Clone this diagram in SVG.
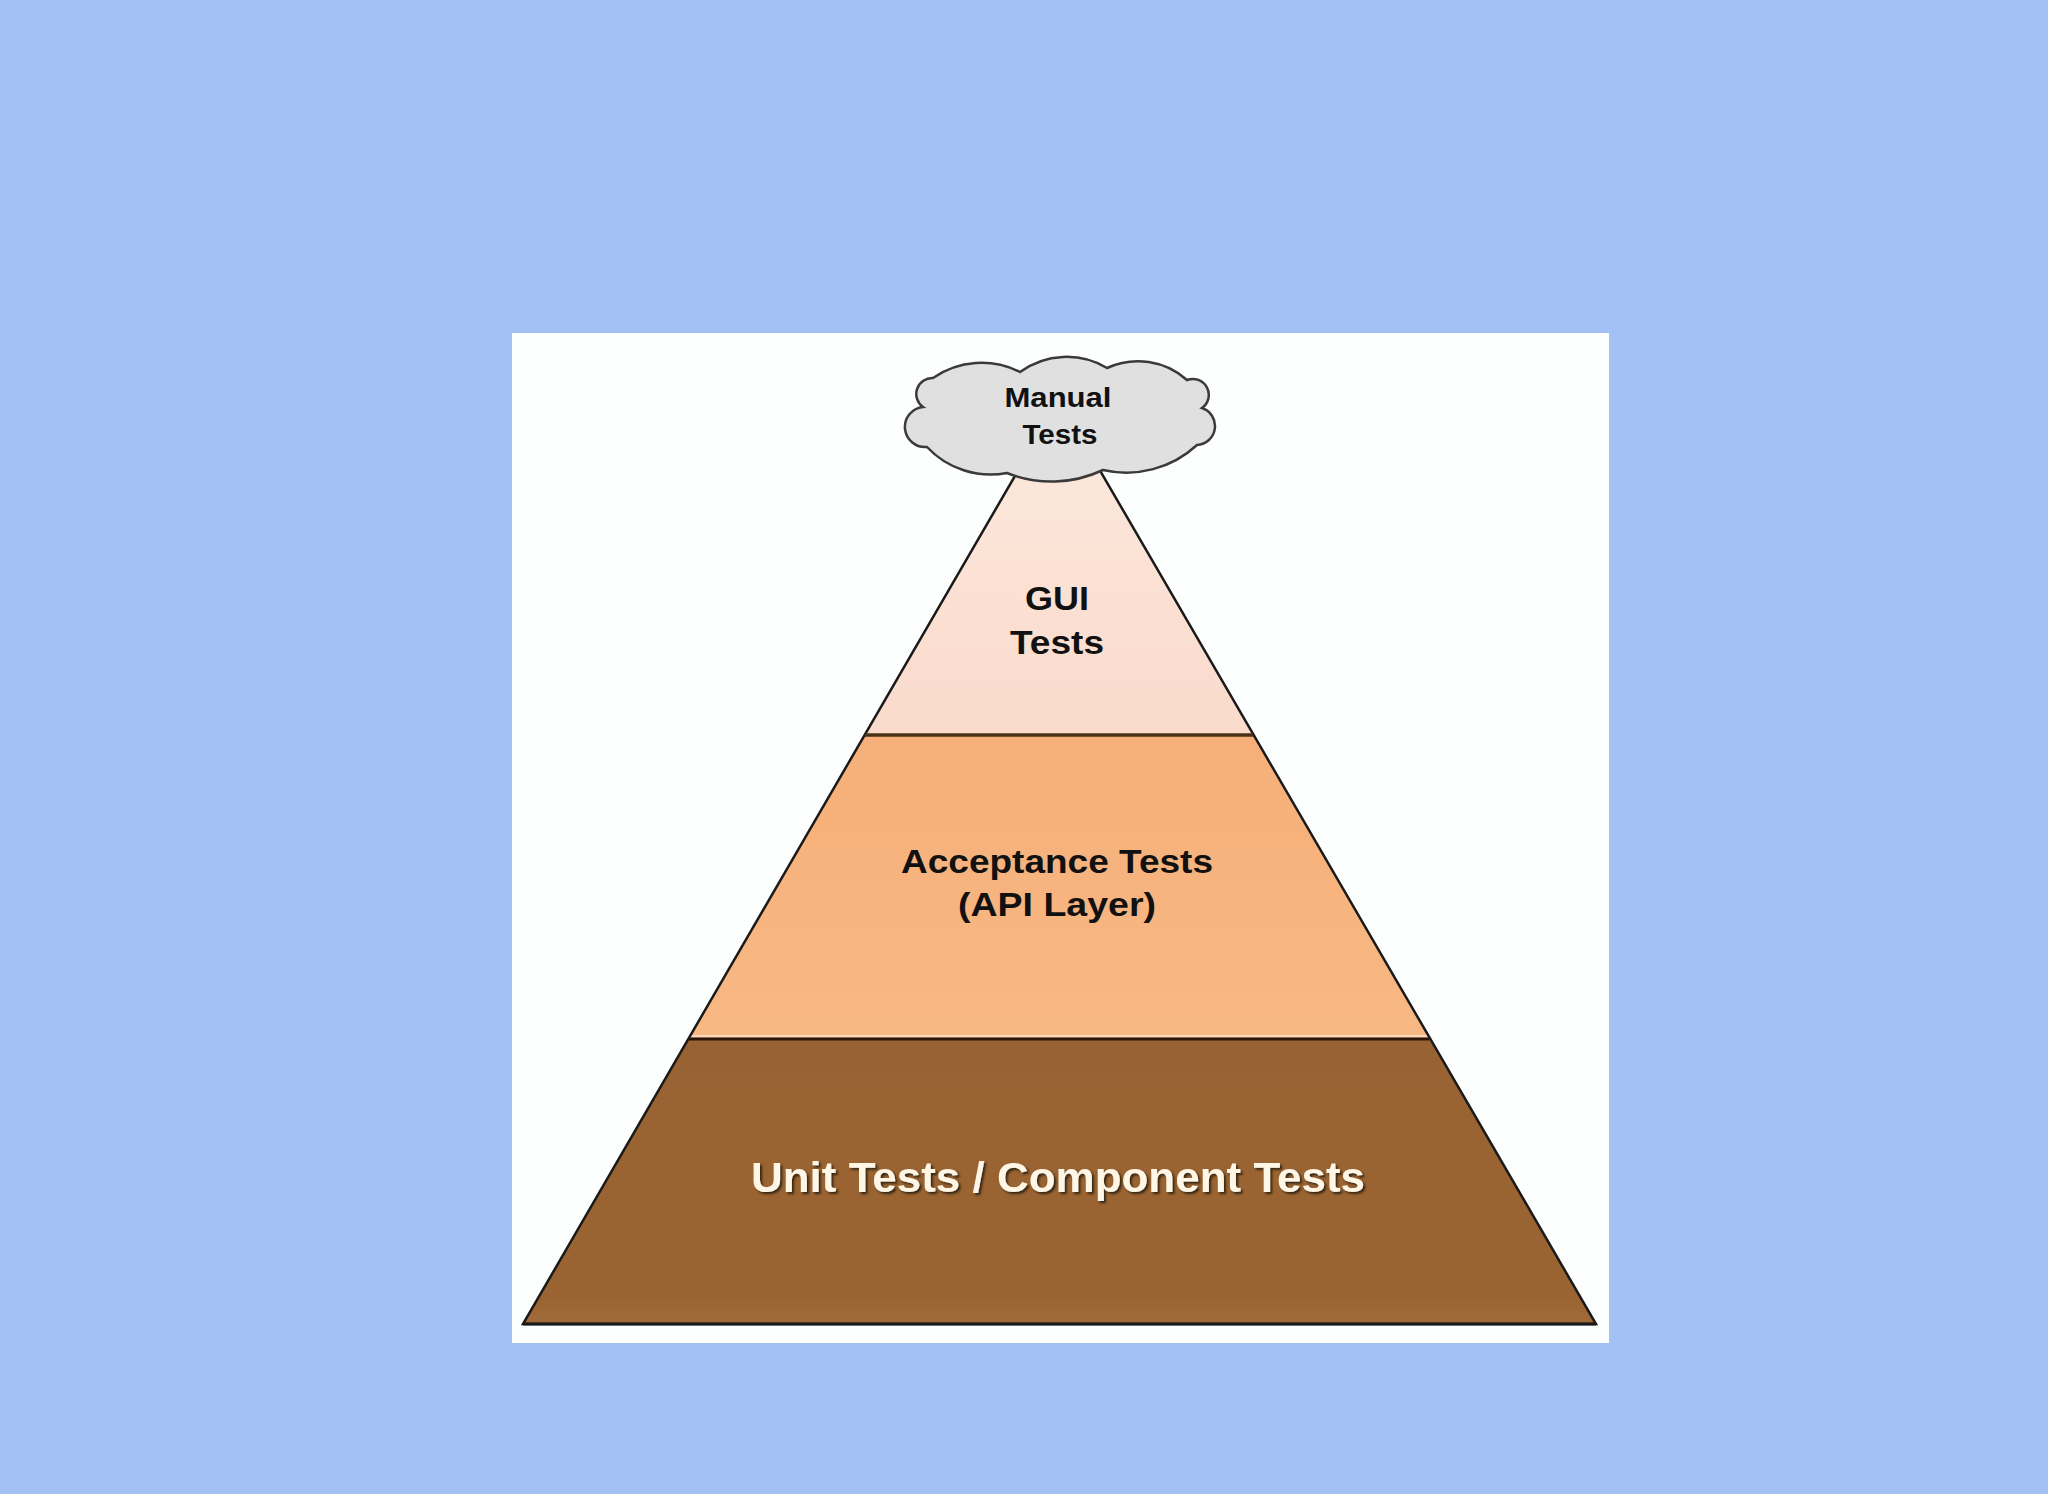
<svg xmlns="http://www.w3.org/2000/svg" width="2048" height="1494" viewBox="0 0 2048 1494">
  <defs>
    <style>
      .lbl { font-family: "Liberation Sans", Arial, sans-serif; font-weight: bold; text-anchor: middle; }
      .dark { fill: #111111; }
      .light { fill: #FFF6E6; }
      .edge { stroke: #1a1a1a; stroke-width: 2.5; fill: none; stroke-linejoin: miter; }
    </style>
    <linearGradient id="gGui" x1="0" y1="0" x2="0" y2="1">
      <stop offset="0" stop-color="#FCEADF"/>
      <stop offset="1" stop-color="#FADACB"/>
    </linearGradient>
    <linearGradient id="gAcc" x1="0" y1="0" x2="0" y2="1">
      <stop offset="0" stop-color="#F6AF78"/>
      <stop offset="1" stop-color="#F8B884"/>
    </linearGradient>
    <linearGradient id="gUnit" x1="0" y1="0" x2="0" y2="1">
      <stop offset="0" stop-color="#996232"/>
      <stop offset="0.9" stop-color="#9A6432"/>
      <stop offset="1" stop-color="#A06A3A"/>
    </linearGradient>
    <filter id="shadow" x="-5%" y="-20%" width="110%" height="140%">
      <feDropShadow dx="2" dy="2" stdDeviation="1.2" flood-color="#2a1a0c" flood-opacity="0.9"/>
    </filter>
  </defs>

  <rect x="0" y="0" width="2048" height="1494" fill="#A3C1F5"/>
  <rect x="512" y="333" width="1097" height="1010" fill="#FDFFFF"/>

  <g id="unit-tests">
    <polygon points="689,1038 1429,1038 1596,1324 523,1324" fill="url(#gUnit)"/>
    <text class="lbl light" x="1058" y="1192" font-size="43" textLength="614" lengthAdjust="spacingAndGlyphs" filter="url(#shadow)">Unit Tests / Component Tests</text>
  </g>

  <g id="acceptance-tests">
    <polygon points="865,735 1253,735 1429,1038 689,1038" fill="url(#gAcc)"/>
    <line x1="691" y1="1036" x2="1428" y2="1036" stroke="#FCD7C2" stroke-width="2"/>
    <text class="lbl dark" x="1057" y="873" font-size="33" textLength="312" lengthAdjust="spacingAndGlyphs">Acceptance Tests</text>
    <text class="lbl dark" x="1057" y="916" font-size="33" textLength="198" lengthAdjust="spacingAndGlyphs">(API Layer)</text>
  </g>

  <g id="gui-tests">
    <polygon points="1059,400 1253,735 865,735" fill="url(#gGui)"/>
    <text class="lbl dark" x="1057" y="610" font-size="34" textLength="64" lengthAdjust="spacingAndGlyphs">GUI</text>
    <text class="lbl dark" x="1057" y="654" font-size="34" textLength="94" lengthAdjust="spacingAndGlyphs">Tests</text>
  </g>

  <g id="pyramid-lines">
    <polygon class="edge" points="1059,400 1596,1324 523,1324"/>
    <line x1="865" y1="735" x2="1253" y2="735" stroke="#4A3314" stroke-width="3.5"/>
    <line x1="689" y1="1039" x2="1429" y2="1039" stroke="#2A1608" stroke-width="3"/>
    <line x1="523" y1="1324" x2="1596" y2="1324" stroke="#1a1a1a" stroke-width="3"/>
  </g>

  <g id="manual-tests">
    <path d="M923,407 A16,16 0 0 1 933,378 A85,85 0 0 1 1020,372 A79,79 0 0 1 1107,368 A74,74 0 0 1 1187,380 A16,16 0 0 1 1202,408 A19,19 0 0 1 1197,445 A104,104 0 0 1 1103,470 A120,120 0 0 1 1007,473 A87,87 0 0 1 927,447 A20,20 0 0 1 923,407 Z" fill="#E0E0E0" stroke="#3a3a3a" stroke-width="2.5"/>
    <text class="lbl dark" x="1058" y="407" font-size="27" textLength="107" lengthAdjust="spacingAndGlyphs">Manual</text>
    <text class="lbl dark" x="1060" y="444" font-size="27" textLength="75" lengthAdjust="spacingAndGlyphs">Tests</text>
  </g>
</svg>
